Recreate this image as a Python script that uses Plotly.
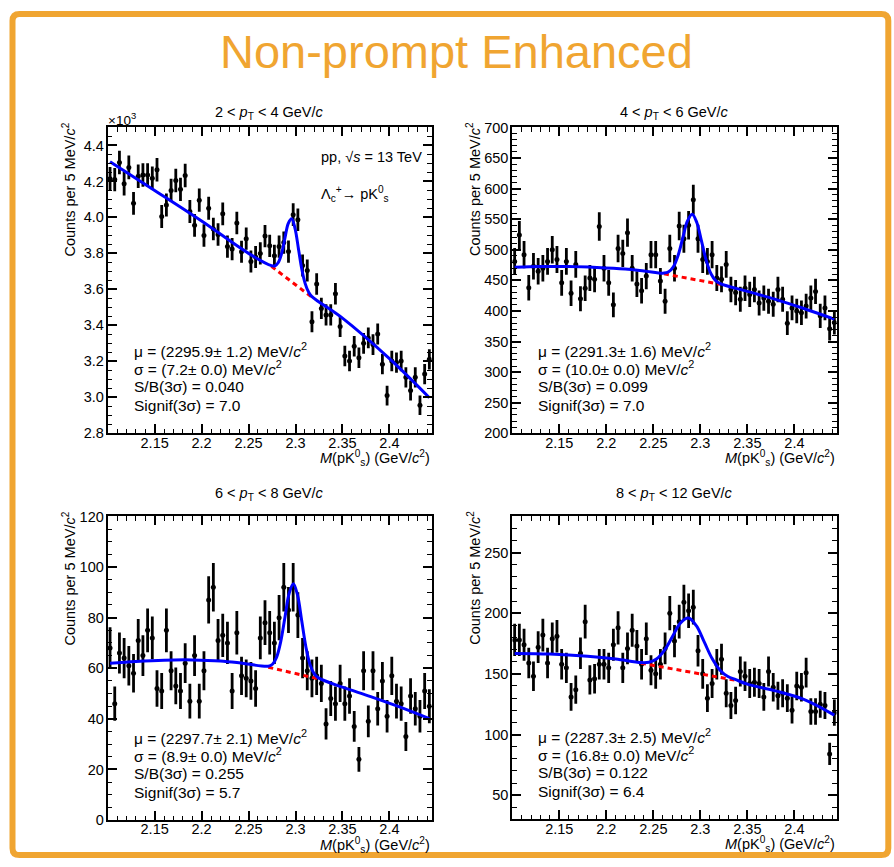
import math
import plotly.graph_objects as go

W, H = 894, 867
ORANGE = "#F0A531"
FONT = "Liberation Sans, Arial, sans-serif"

# ---------------- data ----------------
mass_lo, bin_w, n_bins = 2.100, 0.005, 69
mass = [round(mass_lo + bin_w * (i + 0.5), 4) for i in range(n_bins)]

# 2 < pT < 4 GeV/c  (counts in units of 10^3)
counts_pt2_4 = [4.215, 4.21, 4.305, 4.187, 4.278, 4.078, 4.229, 4.236, 4.236, 4.218,
                4.265, 4.005, 4.069, 4.15, 4.205, 4.156, 4.233, 4.033, 3.956, 4.096,
                3.90, 4.051, 3.936, 3.905, 4.02, 3.838, 3.824, 3.969, 3.809, 3.882,
                3.755, 3.78, 3.80, 3.896, 3.842, 3.787, 3.838, 3.86, 3.81, 4.015,
                3.987, 3.733, 3.705, 3.42, 3.63, 3.494, 3.458, 3.458, 3.576, 3.394,
                3.23, 3.202, 3.284, 3.22, 3.30, 3.33, 3.293, 3.352, 3.184, 3.01,
                3.202, 3.193, 3.202, 3.111, 3.038, 3.111, 2.956, 3.129, 3.211]
# 4 < pT < 6 GeV/c
counts_pt4_6 = [481, 524, 492, 438, 473, 465, 470, 481, 500, 484,
                446, 481, 429, 476, 420, 437, 454, 452, 538, 470,
                446, 410, 502, 494, 528, 470, 444, 433, 457, 492,
                492, 449, 416, 502, 470, 539, 518, 540, 582, 518,
                484, 481, 492, 454, 452, 476, 435, 430, 419, 437,
                427, 435, 413, 421, 416, 411, 435, 419, 380, 405,
                400, 397, 408, 421, 432, 392, 405, 371, 381]
# 6 < pT < 8 GeV/c
counts_pt6_8 = [68, 46, 66, 64, 61, 58, 71, 65, 75, 72,
                52, 51, 75, 59, 53, 51, 62, 47, 65, 47,
                59, 87, 92, 71, 73, 70, 51, 74, 57, 56,
                55, 52, 72, 78, 74, 70, 80, 92, 83, 92,
                81, 64, 59, 56, 57, 54, 38, 48, 46, 54,
                46, 49, 37, 24, 59, 39, 59, 44, 55, 41,
                57, 47, 46, 33, 49, 44, 41, 51, 45]
# 8 < pT < 12 GeV/c
counts_pt8_12 = [178, 178, 174, 159, 148, 172, 182, 159, 179, 181,
                 158, 155, 131, 137, 167, 193, 145, 146, 158, 158,
                 155, 174, 188, 155, 171, 186, 173, 158, 179, 153,
                 150, 158, 171, 200, 177, 193, 209, 202, 205, 169,
                 150, 130, 142, 158, 162, 134, 124, 128, 152, 148,
                 142, 143, 142, 131, 152, 139, 132, 134, 130, 120,
                 140, 139, 151, 119, 119, 125, 124, 84, 118]

# total fit curves (signal + background)
fit_x_pt2_4 = [2.1025, 2.15, 2.20, 2.25, 2.2743, 2.2779, 2.2815, 2.2851, 2.2887, 2.2923,
               2.2959, 2.2995, 2.3031, 2.3067, 2.3103, 2.3139, 2.3175, 2.35, 2.40, 2.4425]
fit_y_pt2_4 = [4.309, 4.15, 3.98, 3.80, 3.732, 3.730, 3.748, 3.798, 3.884, 3.967,
               3.993, 3.938, 3.826, 3.712, 3.632, 3.585, 3.560, 3.44, 3.215, 2.998]
bkg_x_pt2_4 = [2.2743, 2.2959, 2.3175]
bkg_y_pt2_4 = [3.728, 3.641, 3.556]

fit_x_pt4_6 = [2.1025, 2.13, 2.16, 2.19, 2.22, 2.24, 2.2613, 2.2663, 2.2713, 2.2763,
               2.2813, 2.2863, 2.2913, 2.2963, 2.3013, 2.3063, 2.3113, 2.3163, 2.3213,
               2.35, 2.38, 2.41, 2.4425]
fit_y_pt4_6 = [471.5, 472.5, 472.5, 471.0, 468.5, 465.5, 461.9, 464.0, 472.2, 490.8,
               519.3, 547.1, 558.2, 544.2, 513.6, 482.3, 460.8, 449.7, 444.8,
               432.0, 419.0, 404.0, 386.7]
bkg_x_pt4_6 = [2.2613, 2.2913, 2.3213]
bkg_y_pt4_6 = [460.7, 452.2, 443.6]

fit_x_pt6_8 = [2.1025, 2.13, 2.16, 2.19, 2.22, 2.245, 2.2710, 2.27545, 2.2799, 2.28435,
               2.2888, 2.29325, 2.2977, 2.30215, 2.3066, 2.31105, 2.3155, 2.31995, 2.3244,
               2.35, 2.38, 2.41, 2.4425]
fit_y_pt6_8 = [62.0, 62.7, 63.2, 63.3, 62.9, 61.9, 60.79, 61.57, 64.41, 70.71,
               80.28, 89.63, 93.4, 88.87, 78.74, 68.41, 61.35, 57.73, 56.19,
               52.5, 48.8, 44.8, 40.1]
bkg_x_pt6_8 = [2.2710, 2.2977, 2.3244]
bkg_y_pt6_8 = [60.4, 58.1, 55.8]

fit_x_pt8_12 = [2.1025, 2.14, 2.18, 2.21, 2.2369, 2.2453, 2.2537, 2.2621, 2.2705, 2.2789,
                2.2873, 2.2957, 2.3041, 2.3125, 2.3209, 2.3293, 2.3377,
                2.35, 2.38, 2.41, 2.4425]
fit_y_pt8_12 = [166.8, 166.3, 164.5, 162.2, 159.3, 159.6, 162.45, 169.7, 181.0, 192.0,
                196.05, 189.7, 176.3, 162.6, 153.05, 147.8, 145.2,
                141.5, 136.0, 129.0, 116.0]
bkg_x_pt8_12 = [2.2369, 2.2873, 2.3377]
bkg_y_pt8_12 = [158.8, 151.75, 144.7]

titles = ["2 < <i>p</i><sub>T</sub> < 4 GeV/<i>c</i>", "4 < <i>p</i><sub>T</sub> < 6 GeV/<i>c</i>",
          "6 < <i>p</i><sub>T</sub> < 8 GeV/<i>c</i>", "8 < <i>p</i><sub>T</sub> < 12 GeV/<i>c</i>"]
mu_vals = ["2295.9", "2291.3", "2297.7", "2287.3"]
mu_errs = ["1.2", "1.6", "2.1", "2.5"]
sigma_vals = ["7.2", "10.0", "8.9", "16.8"]
sigma_errs = ["0.0", "0.0", "0.0", "0.0"]
sb_vals = ["0.040", "0.099", "0.255", "0.122"]
signif_vals = ["7.0", "7.0", "5.7", "6.4"]

y_ranges = [[2.8, 4.5], [200, 700], [0, 120], [30, 280]]
y_dticks = [0.2, 50, 20, 50]
y_minor = [0.05, 10, 5, 10]
x_range = [2.100, 2.445]
x_tickvals = [2.15, 2.2, 2.25, 2.3, 2.35, 2.4]
x_ticktext = ["2.15", "2.2", "2.25", "2.3", "2.35", "2.4"]

panels = [
    (counts_pt2_4, 1000.0, fit_x_pt2_4, fit_y_pt2_4, bkg_x_pt2_4, bkg_y_pt2_4),
    (counts_pt4_6, 1.0, fit_x_pt4_6, fit_y_pt4_6, bkg_x_pt4_6, bkg_y_pt4_6),
    (counts_pt6_8, 1.0, fit_x_pt6_8, fit_y_pt6_8, bkg_x_pt6_8, bkg_y_pt6_8),
    (counts_pt8_12, 1.0, fit_x_pt8_12, fit_y_pt8_12, bkg_x_pt8_12, bkg_y_pt8_12),
]

# ---------------- layout geometry (pixels) ----------------
def fx(p):
    return p / W

def fy(p):
    return 1 - p / H

# (left, right, top, bottom) in pixels for each frame
frames = [(107.7, 431.7, 121.7, 433.3), (512.3, 836.7, 121.7, 433.3),
          (107.7, 431.7, 518.0, 827.3), (512.3, 836.7, 517.7, 826.7)]

fig = go.Figure()
layout = dict(width=W, height=H, autosize=False, margin=dict(l=0, r=0, t=0, b=0),
              paper_bgcolor="white", plot_bgcolor="white", showlegend=False,
              font=dict(family=FONT, color="black", size=14))
annotations = []

for k, (counts, scale, fxs, fys, bxs, bys) in enumerate(panels):
    n = k + 1
    xa = "x" if n == 1 else f"x{n}"
    ya = "y" if n == 1 else f"y{n}"
    errs = [math.sqrt(c * scale) / scale for c in counts]
    fig.add_trace(go.Scatter(x=mass, y=counts, mode="markers", xaxis=xa, yaxis=ya,
                             marker=dict(color="black", size=5, symbol="circle"),
                             error_y=dict(type="data", array=errs, visible=True,
                                          color="black", thickness=2.8, width=0)))
    fig.add_trace(go.Scatter(x=bxs, y=bys, mode="lines", xaxis=xa, yaxis=ya,
                             line=dict(color="#ff0000", width=3, dash="5px,4px")))
    fig.add_trace(go.Scatter(x=fxs, y=fys, mode="lines", xaxis=xa, yaxis=ya,
                             line=dict(color="#0000ff", width=3, shape="spline", smoothing=1.0)))

    L, R, T, B = frames[k]
    common = dict(showline=True, linecolor="black", linewidth=2, mirror="allticks",
                  ticks="inside", ticklen=9, tickwidth=1.5, tickcolor="black",
                  showgrid=False, zeroline=False,
                  tickfont=dict(family=FONT, size=14.5, color="black"))
    layout["xaxis" if n == 1 else f"xaxis{n}"] = dict(
        common, domain=[fx(L), fx(R)], anchor=ya, range=x_range,
        tickmode="array", tickvals=x_tickvals, ticktext=x_ticktext,
        ticklabelstandoff=-5,
        minor=dict(ticks="inside", ticklen=4.5, tickwidth=1, tickcolor="black",
                   tick0=2.1, dtick=0.01, showgrid=False))
    layout["yaxis" if n == 1 else f"yaxis{n}"] = dict(
        common, domain=[fy(B), fy(T)], anchor=xa, range=y_ranges[k],
        tick0=0, dtick=y_dticks[k], tickformat=".1f" if k == 0 else "d",
        ticklabelstandoff=-1,
        minor=dict(ticks="inside", ticklen=4.5, tickwidth=1, tickcolor="black",
                   tick0=0, dtick=y_minor[k], showgrid=False))

    # panel title
    annotations.append(dict(text=titles[k], x=fx((L + R) / 2), y=fy(T - 15 if k < 2 else T - 23),
                            xref="paper", yref="paper", showarrow=False,
                            xanchor="center", yanchor="middle", font=dict(size=14.5)))
    # y title
    annotations.append(dict(text="Counts per 5 MeV/<i>c</i><sup>2</sup>", x=fx(L - 38.5), y=fy(T + 63),
                            xref="paper", yref="paper", showarrow=False, textangle=-90,
                            xanchor="center", yanchor="middle", font=dict(size=14.5)))
    # x title
    annotations.append(dict(text="<i>M</i>(pK<sup>0</sup><sub>s</sub>) (GeV/<i>c</i><sup>2</sup>)",
                            x=fx(R), y=fy(B + 25), xref="paper", yref="paper", showarrow=False,
                            xanchor="right", yanchor="middle", font=dict(size=14.5)))
    # stats
    lines = [f"μ = ({mu_vals[k]}± {mu_errs[k]}) MeV/<i>c</i><sup>2</sup>",
             f"σ = ({sigma_vals[k]}± {sigma_errs[k]}) MeV/<i>c</i><sup>2</sup>",
             f"S/B(3σ) = {sb_vals[k]}",
             f"Signif(3σ) = {signif_vals[k]}"]
    ys = [B - 85, B - 66.5, B - 47.5, B - 28]
    for t, yy in zip(lines, ys):
        annotations.append(dict(text=t, x=fx(L + 24), y=fy(yy), xref="paper", yref="paper",
                                showarrow=False, xanchor="left", yanchor="middle",
                                font=dict(size=15.5)))

# extra labels in first panel
annotations.append(dict(text="×10<sup>3</sup>", x=fx(106), y=fy(113), xref="paper", yref="paper",
                        showarrow=False, xanchor="left", yanchor="middle", font=dict(size=13.5)))
annotations.append(dict(text="pp, √<i>s</i> = 13 TeV", x=fx(319), y=fy(152), xref="paper", yref="paper",
                        showarrow=False, xanchor="left", yanchor="middle", font=dict(size=14.5)))
annotations.append(dict(text="Λ<sub>c</sub><sup>+</sup>→ pK<sup>0</sup><sub>s</sub>", x=fx(319), y=fy(189),
                        xref="paper", yref="paper", showarrow=False, xanchor="left", yanchor="middle",
                        font=dict(size=14.5)))
# main title
annotations.append(dict(text="Non-prompt Enhanced", x=fx(457), y=fy(44), xref="paper", yref="paper",
                        showarrow=False, xanchor="center", yanchor="middle",
                        font=dict(size=47, color=ORANGE, family=FONT)))

# orange frame with slightly rounded corners (pixel geometry -> paper fractions)
x0p, x1p, y0p, y1p, r = 12.5, 888.3, 6.0, 863.0, 7.0
frame_path = (f"M {fx(x0p + r)},{fy(y0p)} L {fx(x1p - r)},{fy(y0p)} "
              f"Q {fx(x1p)},{fy(y0p)} {fx(x1p)},{fy(y0p + r)} "
              f"L {fx(x1p)},{fy(y1p - r)} Q {fx(x1p)},{fy(y1p)} {fx(x1p - r)},{fy(y1p)} "
              f"L {fx(x0p + r)},{fy(y1p)} Q {fx(x0p)},{fy(y1p)} {fx(x0p)},{fy(y1p - r)} "
              f"L {fx(x0p)},{fy(y0p + r)} Q {fx(x0p)},{fy(y0p)} {fx(x0p + r)},{fy(y0p)} Z")

layout["annotations"] = annotations
layout["shapes"] = [dict(type="path", xref="paper", yref="paper", path=frame_path,
                         line=dict(color=ORANGE, width=6), fillcolor="rgba(0,0,0,0)")]
fig.update_layout(**layout)
fig.write_html("out.html", config={"displayModeBar": False, "responsive": False},
               post_script="document.body.style.margin='0px';document.body.style.overflow='hidden';")
